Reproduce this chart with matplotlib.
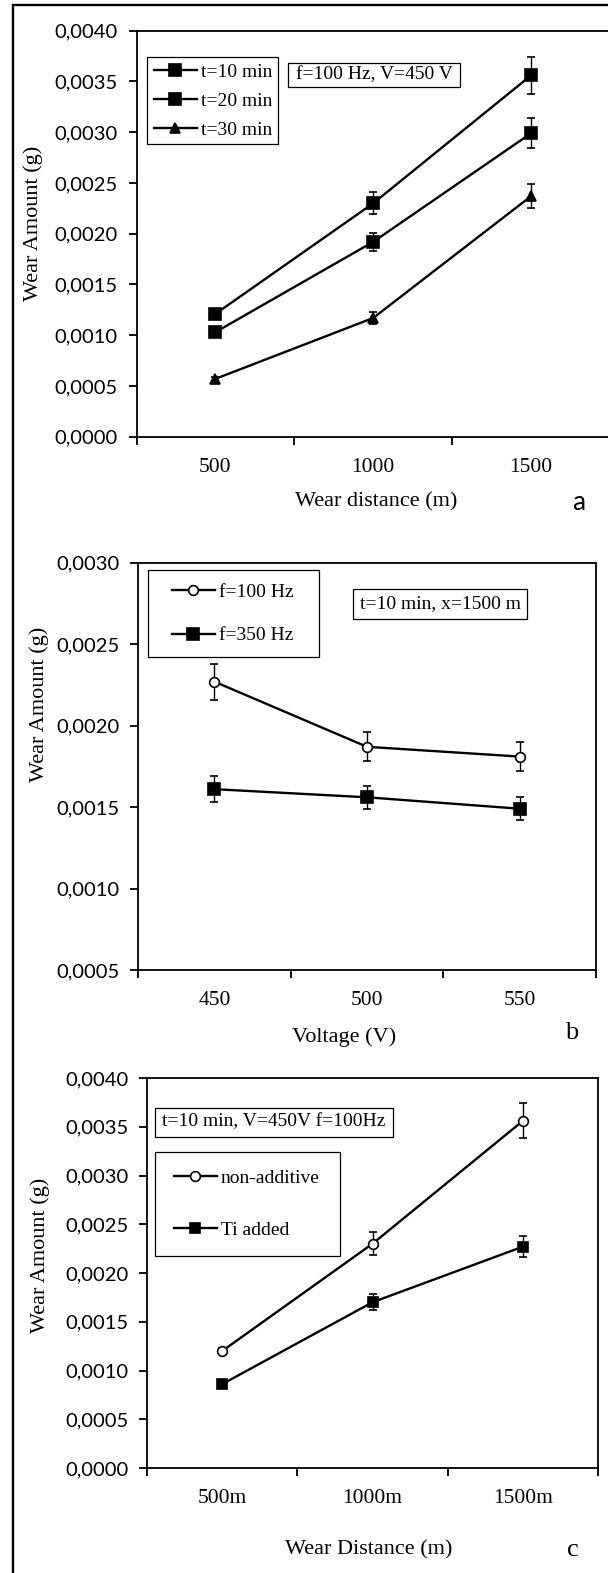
import matplotlib
matplotlib.use('Agg')
import matplotlib.pyplot as plt
from matplotlib.patches import Rectangle
from matplotlib.ticker import MultipleLocator, FuncFormatter

# Picture size in pixels (dpi 100)
W, H = 608, 1573

SERIF = 'Liberation Serif'
SANS = 'Lato'

# Panel a: wear amount vs wear distance for three durations
dist_a = [500, 1000, 1500]
labels_a = ['t=10 min', 't=20 min', 't=30 min']
wear_t10 = [0.00121, 0.00230, 0.00356]
err_t10 = [0.00003, 0.00011, 0.00018]
wear_t20 = [0.00103, 0.00192, 0.00299]
err_t20 = [0.00003, 0.00009, 0.00015]
wear_t30 = [0.00057, 0.00117, 0.00237]
err_t30 = [0.00002, 0.00006, 0.00012]

# Panel b: wear amount vs voltage for two frequencies
volt_b = [450, 500, 550]
labels_b = ['f=100 Hz', 'f=350 Hz']
wear_f100 = [0.00227, 0.00187, 0.00181]
err_f100 = [0.00011, 0.00009, 0.00009]
wear_f350 = [0.00161, 0.00156, 0.00149]
err_f350 = [0.00008, 0.00007, 0.00007]

# Panel c: non-additive vs Ti added coating
dist_c = [500, 1000, 1500]
ticklabels_c = ['500m', '1000m', '1500m']
labels_c = ['non-additive', 'Ti added']
wear_nonadd = [0.00120, 0.00230, 0.00356]
err_nonadd = [0.00003, 0.00012, 0.00018]
wear_ti = [0.00086, 0.00170, 0.00227]
err_ti = [0.00002, 0.00008, 0.00011]


def fx(px):
    return px / W


def fy(py):
    return 1 - py / H


def make_axes(left, top, right, bottom):
    return fig.add_axes([fx(left), fy(bottom), (right - left) / W, (bottom - top) / H])


def style_axes(ax, cats, ticklabels, ylim, xlabel, xlab_pos, ylab_pos):
    step = cats[1] - cats[0]
    bounds = [cats[0] - step / 2 + i * step for i in range(len(cats) + 1)]
    ax.set_xlim(bounds[0], bounds[-1])
    ax.set_ylim(*ylim)
    # tick marks sit between categories, labels sit on them (Excel style)
    ax.set_xticks(bounds)
    ax.set_xticklabels([])
    ax.set_xticks(cats, labels=ticklabels, minor=True, fontfamily=SERIF, fontsize=15.5)
    ax.tick_params(axis='x', which='major', direction='out', length=5.5, width=1.3)
    ax.tick_params(axis='x', which='minor', length=0, pad=15)
    ax.yaxis.set_major_locator(MultipleLocator(0.0005))
    ax.yaxis.set_major_formatter(FuncFormatter(lambda v, p: f'{v:.4f}'.replace('.', ',')))
    ax.tick_params(axis='y', direction='out', length=5.5, width=1.3, pad=8, labelsize=14.5)
    for lbl in ax.get_yticklabels():
        lbl.set_fontfamily(SANS)
    for sp in ax.spines.values():
        sp.set_linewidth(1.3)
    ax.set_xlabel(xlabel, fontfamily=SERIF, fontsize=16, va='center')
    ax.xaxis.set_label_coords(fx(xlab_pos[0]), fy(xlab_pos[1]), transform=fig.transFigure)
    ax.set_ylabel('Wear Amount (g)', fontfamily=SERIF, fontsize=16, va='center')
    ax.yaxis.set_label_coords(fx(ylab_pos[0]), fy(ylab_pos[1]), transform=fig.transFigure)


def series(ax, x, y, e, marker, ms, mfc='black'):
    c = ax.errorbar(x, y, yerr=e, color='black', lw=1.7, marker=marker, ms=ms,
                    mfc=mfc, mec='black', mew=1.2, ecolor='black', elinewidth=1,
                    capsize=3, capthick=1)
    return c[0]


def box(left, top, right, bottom):
    fig.add_artist(Rectangle((fx(left), fy(bottom)), (right - left) / W, (bottom - top) / H,
                             transform=fig.transFigure, fill=False, ec='black', lw=0.9))


def legend(ax, handles, labels, x, y, spacing):
    ax.legend(handles=handles, labels=labels, loc='upper left',
              bbox_to_anchor=(fx(x), fy(y)), bbox_transform=fig.transFigure,
              frameon=False, borderpad=0, borderaxespad=0, handlelength=2.2,
              handletextpad=0.2, labelspacing=spacing,
              prop={'family': SERIF, 'size': 14})


def note(x, y, text):
    fig.text(fx(x), fy(y), text, ha='center', va='center', fontfamily=SERIF, fontsize=14)


fig = plt.figure(figsize=(W / 100, H / 100), dpi=100)

# ---- panel a ----
ax_a = make_axes(136.5, 30.7, 610, 436.7)
h1 = series(ax_a, dist_a, wear_t10, err_t10, 's', 8.5)
h2 = series(ax_a, dist_a, wear_t20, err_t20, 's', 8.5)
h3 = series(ax_a, dist_a, wear_t30, err_t30, '^', 7)
style_axes(ax_a, dist_a, [str(d) for d in dist_a], (0, 0.004), 'Wear distance (m)',
           (376, 502), (33, 223))
legend(ax_a, [h1, h2, h3], labels_a, 154, 63.5, 0.58)
box(146.7, 56.7, 278, 144)
box(288, 63, 460, 87)
note(374, 75, 'f=100 Hz, V=450 V')
fig.text(fx(579), fy(503), 'a', ha='center', va='center', fontfamily=SANS, fontsize=19)

# ---- panel b ----
ax_b = make_axes(138, 562.7, 596, 970)
h4 = series(ax_b, volt_b, wear_f100, err_f100, 'o', 7, mfc='white')
h5 = series(ax_b, volt_b, wear_f350, err_f350, 's', 8.5)
style_axes(ax_b, volt_b, [str(v) for v in volt_b], (0.0005, 0.003), 'Voltage (V)',
           (344, 1037), (39, 704))
legend(ax_b, [h4, h5], labels_b, 172, 583.5, 1.32)
box(148, 570, 319, 657)
box(353, 589, 527, 619)
note(440, 604, 't=10 min, x=1500 m')
fig.text(fx(572), fy(1033), 'b', ha='center', va='center', fontfamily=SERIF, fontsize=19)

# ---- panel c ----
ax_c = make_axes(147, 1078, 598, 1468)
h6 = series(ax_c, dist_c, wear_nonadd, err_nonadd, 'o', 7, mfc='white')
h7 = series(ax_c, dist_c, wear_ti, err_ti, 's', 7)
style_axes(ax_c, dist_c, ticklabels_c, (0, 0.004), 'Wear Distance (m)',
           (369, 1550), (40, 1255))
legend(ax_c, [h6, h7], labels_c, 174, 1169.5, 1.74)
box(155, 1152, 340, 1256)
box(155, 1108, 393, 1137)
note(274, 1122, 't=10 min, V=450V f=100Hz')
fig.text(fx(573), fy(1550), 'c', ha='center', va='center', fontfamily=SERIF, fontsize=19)

# outer frame (only left and top edges fall inside the picture)
fig.add_artist(Rectangle((fx(12.7), -0.1), 1.2, fy(4.7) + 0.1, transform=fig.transFigure,
                         fill=False, ec='black', lw=1.7))

fig.savefig('out.png', dpi=100)
